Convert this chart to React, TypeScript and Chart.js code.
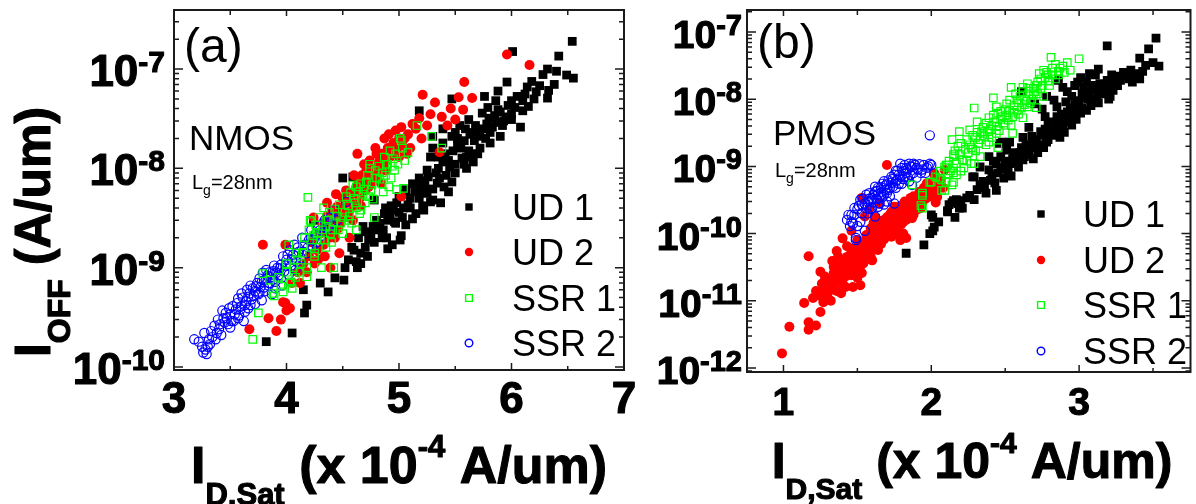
import React, { useEffect, useRef } from 'react';
import { Chart, registerables } from 'chart.js';

Chart.register(...registerables);

const FONT = '"Liberation Sans", Arial, Helvetica, sans-serif';

// ---------- series names / colours ----------
const seriesLabels = ['UD 1', 'UD 2', 'SSR 1', 'SSR 2'];
const seriesColors = ['#000000', '#ff0000', '#00ff00', '#0000ff'];

// ---------- panel (a) NMOS : [ID,Sat (x1e-4 A/um), IOFF (A/um)] ----------
const nmosUD1: number[][] = [
  [3.82, 1.8e-10], [4.05, 2.2e-10], [4.16, 3.5e-10], [4.18, 4.2e-10], [4.15, 6e-10], [4.3, 7e-10], [4.37, 5.7e-10],
  [4.43, 7.9e-10], [4.51, 7.5e-10], [4.24, 3e-9], [4.5, 8e-9], [4.62, 1.15e-9], [4.63, 1e-9], [4.66, 1.4e-9],
  [4.72, 1.3e-9], [4.7, 1.6e-9], [4.78, 1.8e-9], [4.75, 2.2e-9], [4.68, 2.6e-9], [4.81, 2.4e-9], [4.85, 2e-9],
  [4.89, 2e-9], [4.9, 1.55e-9], [4.94, 1.7e-9], [4.97, 2.8e-9], [5.01, 1.9e-9], [5.02, 2.1e-9], [4.8, 3e-9],
  [4.87, 3.5e-9], [4.92, 3.3e-9], [4.96, 2.9e-9], [5.0, 3.6e-9], [5.06, 2.7e-9], [5.12, 3.1e-9], [4.78, 4.8e-9],
  [4.98, 4.5e-9], [5.04, 4e-9], [5.08, 4.3e-9], [5.1, 5e-9], [5.15, 3.5e-9], [5.21, 4.2e-9], [5.22, 3.8e-9],
  [5.28, 4.6e-9], [5.3, 4.8e-9], [5.37, 4.5e-9], [5.06, 6.1e-9], [5.16, 6.5e-9], [5.17, 6.8e-9], [5.2, 6e-9],
  [5.25, 5.6e-9], [5.44, 5.8e-9], [4.59, 8.2e-9], [4.76, 9.2e-9], [5.18, 8e-9], [5.34, 7.1e-9], [5.47, 7.3e-9],
  [5.33, 9e-9], [5.42, 8.5e-9], [5.25, 9.6e-9], [5.45, 1.03e-8], [5.5, 9e-9], [5.6, 1e-8], [5.39, 1.16e-8],
  [5.28, 1.3e-8], [5.56, 1.27e-8], [5.66, 1.16e-8], [5.65, 1.4e-8], [5.62, 1.5e-8], [5.3, 1.6e-8], [5.39, 1.8e-8],
  [5.52, 1.7e-8], [5.72, 1.6e-8], [5.81, 1.8e-8], [5.47, 2.1e-8], [5.3, 2.1e-8], [5.72, 2.1e-8], [5.9, 2.1e-8],
  [5.81, 2.3e-8], [5.59, 2.5e-8], [5.39, 2.5e-8], [5.75, 2.5e-8], [5.54, 2.7e-8], [5.68, 2.7e-8], [6.08, 2.6e-8],
  [5.86, 2.9e-8], [5.93, 3e-8], [5.95, 3.3e-8], [5.85, 3.4e-8], [6.0, 3.5e-8], [5.74, 3.6e-8], [5.18, 3.8e-8],
  [5.88, 3.9e-8], [5.79, 4.1e-8], [6.03, 4.1e-8], [6.15, 4.2e-8], [5.86, 4.8e-8], [6.1, 4.8e-8], [6.0, 4.8e-8],
  [5.47, 5e-8], [6.2, 5e-8], [6.32, 5.1e-8], [5.76, 5.3e-8], [5.88, 6e-8], [6.22, 5.9e-8], [6.33, 6.1e-8],
  [6.14, 6.6e-8], [5.96, 7.4e-8], [6.49, 8.7e-8], [6.55, 8.1e-8], [6.32, 1e-7], [6.42, 1.35e-7], [6.01, 1.5e-7],
  [6.54, 1.9e-7], [4.55, 1.2e-9], [4.6, 1.5e-9], [4.64, 2e-9], [4.7, 2.3e-9], [4.73, 1.9e-9], [4.77, 2.6e-9],
  [4.83, 2.8e-9], [4.86, 2.4e-9], [4.88, 4e-9], [4.9, 3e-9], [4.93, 4.2e-9], [4.95, 3.8e-9], [5.0, 5.2e-9],
  [5.03, 3.2e-9], [5.05, 5.5e-9], [5.1, 4e-9], [5.12, 7e-9], [5.14, 5.8e-9], [5.18, 5e-9], [5.2, 7.5e-9],
  [5.23, 6.8e-9], [5.26, 8.2e-9], [5.3, 6.2e-9], [5.35, 1e-8], [5.36, 8e-9], [5.4, 6.5e-9], [5.41, 1.4e-8],
  [5.44, 1.2e-8], [5.48, 1.5e-8], [5.5, 1.1e-8], [5.52, 2e-8], [5.55, 1.6e-8], [5.58, 1.9e-8], [5.6, 1.3e-8],
  [5.63, 2.2e-8], [5.67, 1.9e-8], [5.7, 2.4e-8], [5.7, 1.4e-8], [5.77, 2e-8], [5.78, 2.8e-8], [5.8, 3.2e-8],
  [5.83, 2.6e-8], [5.9, 3.7e-8], [5.92, 2.7e-8], [5.97, 4.3e-8], [6.0, 3.1e-8], [6.05, 5.3e-8], [6.1, 3.8e-8],
  [6.12, 5.6e-8], [6.18, 7.5e-8], [6.25, 6.8e-8], [6.28, 8.8e-8], [6.38, 7e-8], [6.4, 9.5e-8], [5.62, 3.1e-8],
  [5.65, 2.3e-8], [5.5, 2.3e-8], [5.35, 1.3e-8], [5.58, 1.1e-8], [4.58, 1.6e-9], [4.66, 1.1e-9], [4.52, 1e-9],
];
const nmosUD2: number[][] = [
  [3.67, 2.4e-10], [3.79, 1.7e-9], [3.84, 3.1e-10], [3.91, 2.3e-10], [3.95, 3e-10], [3.97, 4.5e-10], [3.99, 1.7e-9],
  [3.99, 4.4e-10], [4.0, 3.7e-10], [4.03, 3.9e-10], [4.05, 7e-10], [4.1, 9e-10], [4.12, 7e-10], [4.15, 1.1e-9],
  [4.2, 1.3e-9], [4.22, 1.8e-9], [4.24, 3.2e-9], [4.25, 1.1e-9], [4.27, 1.5e-9], [4.3, 2.2e-9], [4.33, 1.7e-9],
  [4.35, 2.6e-9], [4.38, 2e-9], [4.39, 1e-9], [4.4, 3e-9], [4.42, 2.4e-9], [4.45, 3.5e-9], [4.45, 4.1e-9],
  [4.47, 1.4e-9], [4.48, 2.8e-9], [4.5, 4e-9], [4.52, 3.2e-9], [4.54, 4.8e-9], [4.55, 3.6e-9], [4.56, 2e-9],
  [4.58, 5.5e-9], [4.6, 4.2e-9], [4.6, 8.5e-9], [4.62, 6.5e-9], [4.63, 1.4e-8], [4.65, 5e-9], [4.68, 7.5e-9],
  [4.7, 6e-9], [4.71, 9.6e-9], [4.72, 9e-9], [4.75, 7e-9], [4.78, 1.05e-8], [4.8, 1.4e-8], [4.8, 8e-9],
  [4.83, 1.2e-8], [4.84, 7.1e-9], [4.86, 1.1e-8], [4.88, 9.5e-9], [4.9, 1.6e-8], [4.92, 1.3e-8], [4.95, 1.8e-8],
  [4.98, 1.5e-8], [5.0, 2e-8], [5.02, 5.2e-9], [5.03, 1.7e-8], [5.08, 2.2e-8], [5.1, 1.6e-8], [5.15, 2.5e-8],
  [5.21, 5.5e-8], [5.25, 2.7e-8], [5.32, 4.6e-8], [5.36, 1.45e-8], [5.43, 2.7e-8], [5.5, 3.1e-8], [5.53, 5.2e-8],
  [5.57, 3.9e-8], [5.58, 7.4e-8], [5.65, 5.1e-8], [5.96, 1.4e-7], [6.16, 1.1e-7], [4.32, 2.8e-9], [4.36, 3.3e-9],
  [4.41, 3.8e-9], [4.43, 2e-9], [4.46, 2.5e-9], [4.5, 5e-9], [4.53, 6e-9], [4.57, 4.5e-9], [4.59, 3e-9],
  [4.61, 5.8e-9], [4.64, 7e-9], [4.66, 4.2e-9], [4.67, 8.5e-9], [4.69, 1.1e-8], [4.73, 6.5e-9], [4.74, 1.2e-8],
  [4.77, 8.5e-9], [4.79, 1.6e-8], [4.82, 9.5e-9], [4.85, 1.4e-8], [4.87, 2e-8], [4.89, 1.2e-8], [4.91, 2.2e-8],
  [4.94, 1.5e-8], [4.97, 2.4e-8], [5.0, 1.3e-8], [5.02, 2.6e-8], [5.05, 2e-8], [5.07, 1.4e-8], [5.12, 2.8e-8],
  [5.18, 3.2e-8], [5.2, 2e-8], [5.28, 3.5e-8], [5.38, 3.3e-8], [5.46, 4e-8], [4.28, 1.2e-9], [4.34, 1.3e-9],
  [4.18, 9e-10], [4.36, 4.5e-9], [4.44, 5.5e-9],
];
const nmosSSR1: number[][] = [
  [3.7, 1.9e-10], [3.75, 3.5e-10], [3.79, 8.7e-10], [3.88, 5.5e-10], [3.89, 5.2e-10], [3.95, 6.5e-10], [3.97, 5.7e-10],
  [4.0, 9e-10], [4.02, 1.7e-9], [4.03, 7e-10], [4.04, 7.2e-10], [4.05, 6.2e-10], [4.08, 8e-10], [4.1, 1.2e-9],
  [4.12, 9e-10], [4.13, 1.1e-9], [4.15, 1.7e-9], [4.18, 1e-9], [4.18, 8.1e-10], [4.19, 5.1e-9], [4.2, 2.4e-9],
  [4.21, 3e-9], [4.22, 2.9e-9], [4.25, 1.3e-9], [4.25, 1.4e-9], [4.27, 1.9e-9], [4.28, 2.2e-9], [4.3, 1.9e-9],
  [4.31, 1e-9], [4.33, 4e-9], [4.35, 1.6e-9], [4.35, 2.6e-9], [4.39, 2.2e-9], [4.4, 1.8e-9], [4.41, 2.4e-9],
  [4.42, 1e-9], [4.45, 3.3e-9], [4.48, 2.8e-9], [4.5, 2.2e-9], [4.5, 3.2e-9], [4.55, 3e-9], [4.55, 4.2e-9],
  [4.58, 2.8e-9], [4.59, 6.8e-9], [4.6, 5e-9], [4.62, 2.4e-9], [4.62, 4e-9], [4.62, 6.5e-9], [4.65, 3.5e-9],
  [4.66, 3.8e-9], [4.68, 5.5e-9], [4.7, 4.5e-9], [4.71, 7.3e-9], [4.74, 1e-8], [4.74, 1.1e-8], [4.75, 6e-9],
  [4.77, 4.9e-9], [4.78, 3.2e-9], [4.8, 8e-9], [4.85, 7e-9], [4.85, 9e-9], [4.86, 5.8e-9], [4.89, 1.1e-8],
  [4.9, 1.1e-8], [4.91, 6.5e-9], [4.93, 8e-9], [4.95, 1.25e-8], [4.96, 9.6e-9], [4.98, 6.1e-9], [5.01, 2e-8],
  [5.02, 1.9e-8], [5.04, 6.3e-9], [5.05, 1.2e-8], [5.08, 1.45e-8], [5.16, 2.7e-8], [5.29, 2.1e-8], [5.38, 1.6e-8],
  [4.14, 1.4e-9], [4.16, 2e-9], [4.22, 1.6e-9], [4.24, 2.1e-9], [4.26, 2.7e-9], [4.29, 3.2e-9], [4.32, 2.4e-9],
  [4.34, 1.9e-9], [4.37, 3e-9], [4.38, 3.6e-9], [4.42, 2.9e-9], [4.43, 3.9e-9], [4.46, 2.4e-9], [4.47, 4.3e-9],
  [4.52, 3.6e-9], [4.53, 5.2e-9], [4.56, 3.3e-9], [4.57, 5.7e-9], [4.61, 4.5e-9], [4.64, 5.8e-9], [4.66, 7e-9],
  [4.69, 6.2e-9], [4.72, 8.5e-9], [4.73, 5.2e-9], [4.76, 6.8e-9], [4.79, 9.5e-9], [4.82, 1.05e-8], [4.83, 7.8e-9],
  [4.87, 1.3e-8], [4.88, 8.5e-9], [4.92, 1.5e-8], [4.94, 1.05e-8], [4.97, 1.4e-8], [4.99, 1.1e-8], [5.03, 1.6e-8],
  [4.06, 1e-9], [4.09, 1.4e-9], [4.0, 1.1e-9], [3.93, 8e-10], [3.85, 7.5e-10],
];
const nmosSSR2: number[][] = [
  [3.18, 1.9e-10], [3.25, 1.6e-10], [3.26, 1.4e-10], [3.27, 2.2e-10], [3.28, 1.5e-10], [3.29, 1.35e-10], [3.31, 1.9e-10],
  [3.32, 1.7e-10], [3.34, 2e-10], [3.36, 2.6e-10], [3.38, 2.2e-10], [3.4, 2.4e-10], [3.41, 2.7e-10], [3.43, 3.7e-10],
  [3.44, 3.1e-10], [3.45, 2.8e-10], [3.47, 3.1e-10], [3.5, 2.5e-10], [3.5, 3.4e-10], [3.52, 4.1e-10], [3.53, 2.9e-10],
  [3.55, 3.8e-10], [3.56, 4.4e-10], [3.57, 4.9e-10], [3.58, 3.3e-10], [3.6, 4.1e-10], [3.61, 5e-10], [3.62, 2.9e-10],
  [3.63, 3.6e-10], [3.64, 4.6e-10], [3.65, 6e-10], [3.66, 3.9e-10], [3.67, 5.5e-10], [3.69, 4.8e-10], [3.7, 6.2e-10],
  [3.72, 4.3e-10], [3.72, 5.8e-10], [3.74, 7e-10], [3.75, 5.4e-10], [3.76, 7.8e-10], [3.77, 6.4e-10], [3.78, 4.7e-10],
  [3.79, 8.9e-10], [3.8, 7.5e-10], [3.81, 5.8e-10], [3.82, 9.5e-10], [3.83, 8.3e-10], [3.84, 6.6e-10], [3.85, 7e-10],
  [3.86, 8e-10], [3.87, 5.4e-10], [3.88, 9.2e-10], [3.9, 7.2e-10], [3.9, 6.2e-10], [3.92, 1e-9], [3.93, 8.4e-10],
  [3.95, 1.07e-9], [3.96, 6.6e-10], [3.97, 1.3e-9], [3.98, 9.2e-10], [4.0, 1.2e-9], [4.02, 8.5e-10], [4.03, 1.5e-9],
  [4.04, 1.05e-9], [4.06, 1.35e-9], [4.07, 1.7e-9], [4.08, 9.5e-10], [4.09, 1.15e-9], [4.11, 1.45e-9], [4.13, 1.25e-9],
  [4.14, 2e-9], [4.16, 1.7e-9], [4.18, 1.4e-9], [4.2, 1.9e-9], [4.22, 2.4e-9], [4.23, 1.6e-9], [4.26, 2.2e-9],
  [4.28, 2.6e-9], [4.31, 2.1e-9], [4.34, 3e-9], [4.37, 2.5e-9], [4.42, 3.8e-9], [4.45, 3e-9], [4.53, 4.6e-9],
  [3.22, 1.8e-10], [3.3, 1.6e-10], [3.33, 2.3e-10], [3.37, 1.9e-10], [3.39, 3e-10], [3.42, 2.1e-10], [3.46, 3.5e-10],
  [3.48, 2.7e-10], [3.49, 3.9e-10], [3.51, 2.9e-10], [3.54, 3.4e-10], [3.57, 3.1e-10], [3.59, 3.8e-10], [3.6, 5.5e-10],
  [3.63, 4.2e-10], [3.66, 5.1e-10], [3.68, 4.2e-10], [3.68, 6.6e-10], [3.71, 5.2e-10], [3.73, 6.5e-10], [3.76, 5.6e-10],
  [3.78, 7.2e-10], [3.8, 6.3e-10], [3.82, 7.8e-10], [3.85, 9e-10], [3.88, 7.6e-10], [3.89, 1.05e-9], [3.91, 8.9e-10],
  [3.94, 9.8e-10], [3.95, 7.8e-10], [3.99, 1.05e-9], [4.01, 1.35e-9], [4.05, 1.2e-9], [4.1, 1.6e-9], [4.12, 1.1e-9],
  [4.15, 1.45e-9], [4.19, 1.6e-9], [4.24, 1.9e-9], [4.27, 1.8e-9], [4.3, 2.4e-9], [4.33, 2.3e-9], [4.36, 2.8e-9],
  [4.39, 3.2e-9], [4.4, 2.7e-9],
];

// ---------- panel (b) PMOS ----------
const pmosUD1: number[][] = [
  [1.83, 5.1e-11], [1.95, 6.8e-11], [2.01, 1.1e-10], [2.02, 1.25e-10], [1.99, 1e-10], [2.0, 1.9e-10], [2.01, 1.75e-10],
  [2.11, 2.2e-10], [2.16, 1.75e-10], [2.15, 3.1e-10], [2.2, 3.1e-10], [2.21, 2.4e-10], [2.28, 7e-10], [2.11, 2.1e-10],
  [2.14, 2.9e-10], [2.17, 3.2e-10], [2.19, 2.4e-10], [2.26, 3.7e-10], [2.29, 3.2e-10], [2.37, 4e-10], [2.36, 4.8e-10],
  [2.44, 4.4e-10], [2.43, 5.7e-10], [2.29, 7e-10], [2.33, 9.8e-10], [2.39, 8.9e-10], [2.45, 8e-10], [2.49, 6.7e-10],
  [2.54, 7.2e-10], [2.44, 1.1e-9], [2.59, 9.8e-10], [2.53, 1.1e-9], [2.62, 1.25e-9], [2.69, 1.3e-9], [2.47, 1.4e-9],
  [2.39, 1.4e-9], [2.42, 1.2e-9], [2.51, 1.75e-9], [2.56, 1.6e-9], [2.61, 1.9e-9], [2.65, 1.75e-9], [2.72, 1.6e-9],
  [2.76, 1.9e-9], [2.53, 2.3e-9], [2.46, 2.2e-9], [2.48, 2.3e-9], [2.62, 2.7e-9], [2.69, 2.3e-9], [2.79, 2.5e-9],
  [2.87, 2.7e-9], [2.66, 3.8e-9], [2.74, 3.3e-9], [2.85, 3.7e-9], [2.79, 4.1e-9], [2.89, 4.4e-9], [2.95, 4.1e-9],
  [2.77, 5.5e-9], [2.85, 5.5e-9], [2.92, 5.3e-9], [3.01, 6.2e-9], [3.05, 6.8e-9], [2.75, 7.1e-9], [2.85, 7.7e-9],
  [2.96, 7.4e-9], [2.91, 9.1e-9], [3.13, 8.8e-9], [3.2, 1e-8], [2.83, 9.7e-9], [3.06, 1e-8], [2.95, 1.1e-8],
  [3.21, 1.1e-8], [3.13, 1.2e-8], [3.02, 1.2e-8], [2.61, 1.3e-8], [3.09, 1.4e-8], [3.03, 1.5e-8], [3.16, 1.5e-8],
  [3.24, 1.75e-8], [3.19, 1.9e-8], [2.86, 1.9e-8], [3.25, 2e-8], [3.34, 2e-8], [3.41, 2e-8], [3.01, 2.1e-8],
  [3.11, 2.3e-8], [3.38, 2.4e-8], [3.3, 2.5e-8], [3.13, 2.8e-8], [3.54, 3.1e-8], [3.5, 3.5e-8], [3.41, 4.1e-8],
  [3.47, 5.6e-8], [3.19, 6.2e-8], [3.52, 8.1e-8], [2.58, 1.4e-9], [2.66, 1.5e-9], [2.8, 3e-9], [2.9, 3.2e-9],
  [2.98, 5e-9], [3.08, 8e-9], [2.99, 9.5e-9], [3.16, 1.3e-8], [2.92, 6.5e-9], [2.7, 2e-9], [2.55, 1.3e-9],
  [2.35, 6e-10], [2.5, 9e-10], [3.27, 2.2e-8], [3.05, 1.8e-8], [2.97, 1.6e-8], [2.05, 1.5e-10], [2.12, 2.7e-10],
  [2.18, 2.8e-10], [2.24, 3.4e-10], [2.31, 4.5e-10], [2.33, 5.3e-10], [2.4, 6.2e-10], [2.41, 7.5e-10], [2.47, 9.5e-10],
  [2.5, 1.2e-9], [2.52, 8.5e-10], [2.57, 1.15e-9], [2.6, 1.6e-9], [2.63, 1.4e-9], [2.64, 2.1e-9], [2.67, 1.9e-9],
  [2.68, 2.8e-9], [2.71, 2.5e-9], [2.73, 2.1e-9], [2.75, 2.9e-9], [2.77, 3.6e-9], [2.78, 2.3e-9], [2.81, 3.4e-9],
  [2.82, 4.6e-9], [2.84, 2.9e-9], [2.86, 4.2e-9], [2.88, 6e-9], [2.89, 3.6e-9], [2.9, 5e-9], [2.93, 4.6e-9],
  [2.94, 6.8e-9], [2.96, 5.6e-9], [2.97, 8.3e-9], [2.99, 6.4e-9], [3.0, 8.9e-9], [3.02, 7.4e-9], [3.03, 1.05e-8],
  [3.04, 1.3e-8], [3.07, 1.2e-8], [3.08, 9.2e-9], [3.1, 1.6e-8], [3.12, 1e-8], [3.14, 1.7e-8], [3.15, 1.4e-8],
  [3.18, 1.2e-8], [3.2, 1.6e-8], [3.22, 2.3e-8], [3.23, 1.35e-8], [3.26, 1.6e-8], [3.28, 1.9e-8], [3.32, 2.2e-8],
  [3.35, 2.7e-8], [3.36, 1.8e-8], [3.43, 2.6e-8], [3.45, 3.2e-8], [2.7, 8.5e-9], [2.78, 1.1e-8], [2.92, 1.3e-8],
  [2.99, 1.8e-8], [3.07, 2.4e-8], [2.89, 1.5e-8],
];
const pmosUD2: number[][] = [
  [0.99, 1.65e-12], [1.04, 4.1e-12], [1.17, 3.7e-12], [1.17, 4.8e-12], [1.22, 4.3e-12], [1.14, 9.3e-12], [1.2, 1.1e-11],
  [1.25, 6.8e-12], [1.17, 4.6e-11], [1.25, 2.7e-11], [1.27, 9.5e-12], [1.32, 1e-11], [1.32, 1.6e-11], [1.34, 3.2e-11],
  [1.29, 1.9e-11], [1.39, 1.3e-11], [1.37, 4.5e-11], [1.4, 8.5e-11], [1.42, 2.3e-11], [1.44, 3.7e-11], [1.49, 5.3e-11],
  [1.47, 1.6e-11], [1.52, 1.7e-11], [1.53, 2.6e-11], [1.54, 3.6e-11], [1.53, 3.4e-10], [1.57, 7.2e-11], [1.6, 4e-11],
  [1.64, 5.7e-11], [1.67, 8.8e-11], [1.7, 1.05e-9], [1.71, 1.25e-10], [1.77, 1e-10], [1.77, 1.6e-10], [1.82, 2.2e-10],
  [1.83, 8.6e-11], [1.87, 1.7e-10], [1.91, 3.1e-10], [1.95, 4.8e-10], [2.0, 3.7e-10], [2.03, 2.9e-10], [2.03, 4.2e-10],
  [2.02, 7.5e-10], [2.09, 8.9e-10], [1.75, 2.5e-10], [1.62, 1.75e-10], [2.02, 7.9e-10], [1.99, 4e-10], [1.84, 1.8e-10],
  [1.81, 1e-10], [1.79, 8e-11], [1.3, 1.3e-11], [1.35, 2.2e-11], [1.36, 1.4e-11], [1.38, 2.8e-11], [1.4, 1.8e-11],
  [1.41, 3.2e-11], [1.43, 4.5e-11], [1.45, 2.8e-11], [1.46, 6e-11], [1.48, 3.9e-11], [1.5, 2.2e-11], [1.5, 8e-11],
  [1.51, 4.8e-11], [1.55, 6e-11], [1.56, 9.5e-11], [1.58, 5e-11], [1.59, 1.2e-10], [1.6, 7.5e-11], [1.61, 1.45e-10],
  [1.63, 1e-10], [1.65, 1.3e-10], [1.66, 7e-11], [1.68, 1.6e-10], [1.69, 1.1e-10], [1.72, 1.9e-10], [1.73, 9e-11],
  [1.74, 1.4e-10], [1.76, 2e-10], [1.78, 1.25e-10], [1.8, 2.6e-10], [1.81, 1.5e-10], [1.85, 3e-10], [1.86, 2.2e-10],
  [1.88, 3.6e-10], [1.89, 2.6e-10], [1.92, 4.2e-10], [1.93, 2.4e-10], [1.96, 3.3e-10], [1.97, 5.6e-10], [2.0, 5.5e-10],
  [1.28, 2.3e-11], [1.33, 3.9e-11], [1.36, 5.5e-11], [1.22, 1.4e-11], [1.26, 1.8e-11], [1.55, 1.8e-10], [1.58, 2.3e-10],
  [1.65, 2.8e-10], [1.46, 1.1e-10], [1.43, 6.5e-11], [1.24, 1.2e-11], [1.27, 1.5e-11], [1.29, 1.1e-11], [1.31, 2e-11],
  [1.33, 1.5e-11], [1.34, 2.6e-11], [1.36, 1.9e-11], [1.37, 3.3e-11], [1.39, 2.3e-11], [1.4, 4e-11], [1.41, 2.7e-11],
  [1.42, 1.6e-11], [1.44, 3.2e-11], [1.45, 4.8e-11], [1.46, 2.4e-11], [1.47, 3.5e-11], [1.48, 5.5e-11], [1.49, 2.9e-11],
  [1.5, 4.2e-11], [1.51, 6.5e-11], [1.52, 3.3e-11], [1.53, 4.6e-11], [1.54, 7.5e-11], [1.55, 4e-11], [1.56, 5.3e-11],
  [1.57, 8.8e-11], [1.58, 6.4e-11], [1.59, 4.6e-11], [1.6, 9.8e-11], [1.61, 6.2e-11], [1.62, 8e-11], [1.63, 1.25e-10],
  [1.64, 7.5e-11], [1.65, 1e-10], [1.66, 1.5e-10], [1.67, 1.15e-10], [1.68, 8.2e-11], [1.69, 1.4e-10], [1.7, 1.75e-10],
  [1.71, 9.5e-11], [1.72, 1.3e-10], [1.73, 2.1e-10], [1.74, 1.15e-10], [1.75, 1.7e-10], [1.76, 1.3e-10], [1.77, 2.3e-10],
  [1.78, 1.8e-10], [1.79, 2.6e-10], [1.8, 1.4e-10], [1.81, 2e-10], [1.82, 3e-10], [1.83, 1.6e-10], [1.84, 2.5e-10],
  [1.85, 2e-10], [1.86, 3.4e-10], [1.87, 2.5e-10], [1.88, 1.9e-10], [1.9, 3.4e-10], [1.91, 2.3e-10], [1.92, 3.7e-10],
  [1.94, 2.9e-10], [1.95, 3.8e-10], [1.96, 4.5e-10], [1.98, 3.5e-10], [1.99, 5e-10], [2.01, 4.6e-10], [2.04, 3.5e-10],
  [2.05, 5.2e-10], [2.06, 6.2e-10], [2.08, 4.8e-10],
];
const pmosSSR1: number[][] = [
  [1.87, 5.3e-10], [1.94, 3.7e-10], [1.94, 2.4e-10], [1.93, 2.6e-10], [2.1, 1.05e-9], [2.0, 5.9e-10], [2.07, 6.3e-10],
  [2.14, 5.3e-10], [2.09, 4.4e-10], [2.15, 8e-10], [2.15, 1.5e-9], [2.21, 1.25e-9], [2.2, 2.2e-9], [2.27, 1.9e-9],
  [2.27, 1.1e-9], [2.81, 4.2e-8], [3.0, 4e-8], [2.89, 3.1e-8], [2.82, 2.9e-8], [2.76, 2.7e-8], [2.73, 2.4e-8],
  [2.79, 2.3e-8], [2.86, 2.3e-8], [2.72, 1.8e-8], [2.79, 1.9e-8], [2.54, 1.5e-8], [2.62, 1.5e-8], [2.69, 1.45e-8],
  [2.74, 1.45e-8], [2.66, 1.2e-8], [2.76, 1.1e-8], [2.42, 1.05e-8], [2.29, 7.4e-9], [2.44, 7.7e-9], [2.53, 9.7e-9],
  [2.59, 8.8e-9], [2.65, 7.7e-9], [2.71, 7.5e-9], [2.42, 5.8e-9], [2.51, 5.8e-9], [2.56, 6.4e-9], [2.62, 5.3e-9],
  [2.31, 4.6e-9], [2.37, 4.4e-9], [2.49, 4.4e-9], [2.54, 4.1e-9], [2.19, 3.3e-9], [2.26, 3.5e-9], [2.35, 3.1e-9],
  [2.44, 3.1e-9], [2.55, 3.1e-9], [2.14, 2.5e-9], [2.24, 2.5e-9], [2.32, 2.2e-9], [2.39, 2.3e-9], [2.45, 1.9e-9],
  [2.16, 1.7e-9], [2.25, 1.6e-9], [2.33, 1.4e-9], [2.15, 1.4e-9], [2.21, 1.25e-9], [2.29, 1.1e-9], [2.11, 1.05e-9],
  [2.15, 9.4e-10], [2.22, 9.5e-10], [2.11, 7.5e-10], [2.17, 7.5e-10], [2.06, 6.7e-10], [2.15, 5.8e-10], [1.99, 5.8e-10],
  [2.07, 4.4e-10], [1.94, 4e-10], [2.09, 9.8e-10], [2.4, 3.6e-9], [2.47, 5e-9], [2.58, 6.9e-9], [2.68, 1e-8],
  [2.6, 1.1e-8], [2.5, 7e-9], [2.36, 2.8e-9], [2.3, 2.7e-9], [2.41, 4e-9], [2.52, 4.9e-9], [2.63, 8.3e-9],
  [2.7, 1.3e-8], [2.8, 1.6e-8], [2.84, 2e-8], [2.77, 2.1e-8], [2.86, 2.6e-8], [2.9, 2.5e-8], [2.65, 1.7e-8],
  [2.57, 1.2e-8], [2.18, 2e-9], [2.28, 1.8e-9], [2.34, 3.3e-9], [2.45, 6.2e-9], [2.12, 1.2e-9], [2.03, 7e-10],
  [2.06, 8.5e-10], [2.1, 6e-10], [2.13, 8.6e-10], [2.17, 1.1e-9], [2.19, 1.5e-9], [2.2, 8.5e-10], [2.23, 1.8e-9],
  [2.24, 1.2e-9], [2.26, 2.1e-9], [2.28, 2.9e-9], [2.3, 1.7e-9], [2.31, 3.2e-9], [2.33, 2.5e-9], [2.35, 3.8e-9],
  [2.37, 2.1e-9], [2.38, 3.3e-9], [2.39, 5.3e-9], [2.41, 2.7e-9], [2.43, 4.6e-9], [2.44, 3.9e-9], [2.46, 3.4e-9],
  [2.47, 6.6e-9], [2.48, 5.5e-9], [2.5, 4.1e-9], [2.51, 8.5e-9], [2.53, 6.8e-9], [2.55, 5.5e-9], [2.56, 8e-9],
  [2.58, 9.8e-9], [2.59, 6e-9], [2.61, 7.4e-9], [2.62, 1.3e-8], [2.64, 9.5e-9], [2.66, 1.45e-8], [2.67, 8.8e-9],
  [2.69, 1.15e-8], [2.71, 1.6e-8], [2.72, 1.2e-8], [2.74, 2e-8], [2.75, 1.6e-8], [2.78, 2.5e-8], [2.8, 1.85e-8],
  [2.82, 2.3e-8], [2.84, 3.3e-8], [2.87, 2.9e-8], [2.92, 3.5e-8], [2.94, 2.7e-8],
];
const pmosSSR2: number[][] = [
  [1.43, 1.6e-10], [1.47, 1.4e-10], [1.49, 8e-11], [1.49, 8.6e-11], [1.46, 1.9e-10], [1.5, 2.3e-10], [1.52, 1.5e-10],
  [1.53, 2.7e-10], [1.55, 2.8e-10], [1.55, 1.1e-10], [1.57, 2e-10], [1.58, 3.3e-10], [1.59, 3.1e-10], [1.6, 2.4e-10],
  [1.61, 3.8e-10], [1.62, 1.8e-10], [1.63, 4.3e-10], [1.64, 2.5e-10], [1.65, 3.4e-10], [1.66, 4.9e-10], [1.67, 3.5e-10],
  [1.68, 2.7e-10], [1.69, 4.5e-10], [1.7, 5.5e-10], [1.71, 4.5e-10], [1.72, 3.6e-10], [1.73, 5.7e-10], [1.74, 6.5e-10],
  [1.75, 2.8e-10], [1.76, 4.8e-10], [1.77, 6.3e-10], [1.78, 7.5e-10], [1.79, 1.1e-9], [1.8, 5.5e-10], [1.81, 8.5e-10],
  [1.82, 7e-10], [1.83, 9.5e-10], [1.84, 7e-10], [1.85, 6e-10], [1.86, 1e-9], [1.87, 9.8e-10], [1.87, 5.3e-10],
  [1.88, 8e-10], [1.89, 1.05e-9], [1.9, 6.8e-10], [1.91, 9e-10], [1.93, 8e-10], [1.95, 1.05e-9], [1.97, 9.5e-10],
  [2.0, 1.05e-9], [1.99, 1.1e-9], [1.68, 6e-10], [1.62, 5e-10], [1.56, 3.8e-10], [1.52, 3.2e-10], [1.48, 2.4e-10],
  [1.45, 1.3e-10], [1.64, 3.9e-10], [1.7, 3e-10], [1.76, 8.6e-10], [1.99, 2.9e-9], [1.44, 1.9e-10], [1.46, 1.5e-10],
  [1.48, 1.9e-10], [1.5, 1.3e-10], [1.51, 2.6e-10], [1.53, 2e-10], [1.54, 3.3e-10], [1.56, 2.4e-10], [1.57, 3e-10],
  [1.58, 4e-10], [1.59, 2.3e-10], [1.6, 3.4e-10], [1.61, 2.9e-10], [1.62, 4.2e-10], [1.63, 3.3e-10], [1.64, 4.8e-10],
  [1.65, 2.8e-10], [1.66, 4.1e-10], [1.67, 5.5e-10], [1.68, 3.8e-10], [1.69, 5.2e-10], [1.7, 4e-10], [1.71, 6.2e-10],
  [1.72, 4.8e-10], [1.73, 7e-10], [1.74, 5e-10], [1.75, 7.5e-10], [1.76, 6e-10], [1.77, 8.6e-10], [1.78, 5.5e-10],
  [1.79, 7e-10], [1.8, 9.5e-10], [1.81, 6.5e-10], [1.82, 1.05e-9], [1.83, 8e-10], [1.84, 9e-10], [1.85, 1.1e-9],
  [1.86, 7.5e-10], [1.88, 1.1e-9], [1.9, 9.5e-10], [1.92, 1.08e-9], [1.94, 9e-10], [1.96, 8e-10], [1.98, 1e-9],
];

// ---------- axes ----------
const nmosXRange = [3, 7];
const nmosYRange = [9.33e-11, 3.93e-7];
const nmosXTicks = [3, 4, 5, 6, 7];
const nmosXMinor = [3.5, 4.5, 5.5, 6.5];
const nmosYDecades = [-10, -9, -8, -7];

const pmosXRange = [0.7533, 3.7467];
const pmosYRange = [8.72e-13, 2.126e-7];
const pmosXTicks = [1, 2, 3];
const pmosXMinor = [1.5, 2.5, 3.5];
const pmosYDecades = [-12, -11, -10, -9, -8, -7];

// ---------- drawing helpers ----------
type Part = { t: string; size: number; bold?: boolean; dy?: number };

function drawRich(ctx: CanvasRenderingContext2D, parts: Part[], x: number, y: number, align: 'left' | 'center' | 'right') {
  const fonts = parts.map((p) => `${p.bold ? 'bold ' : ''}${p.size}px ${FONT}`);
  const widths = parts.map((p, i) => {
    ctx.font = fonts[i];
    return ctx.measureText(p.t).width;
  });
  const total = widths.reduce((s, w) => s + w, 0);
  let cx = align === 'left' ? x : align === 'center' ? x - total / 2 : x - total;
  ctx.textAlign = 'left';
  ctx.textBaseline = 'alphabetic';
  parts.forEach((p, i) => {
    ctx.font = fonts[i];
    ctx.fillText(p.t, cx, y + (p.dy || 0));
    if (p.bold) {
      ctx.lineWidth = 1.1;
      ctx.strokeStyle = '#000';
      ctx.lineJoin = 'round';
      ctx.strokeText(p.t, cx, y + (p.dy || 0));
    }
    cx += widths[i];
  });
}

function drawMarker(ctx: CanvasRenderingContext2D, i: number, x: number, y: number) {
  ctx.save();
  if (i === 0) {
    ctx.fillStyle = seriesColors[0];
    ctx.fillRect(x - 3.7, y - 3.7, 7.4, 7.4);
  } else if (i === 1) {
    ctx.fillStyle = seriesColors[1];
    ctx.beginPath();
    ctx.arc(x, y, 4.2, 0, Math.PI * 2);
    ctx.fill();
  } else if (i === 2) {
    ctx.strokeStyle = seriesColors[2];
    ctx.lineWidth = 1.4;
    ctx.strokeRect(x - 3.4, y - 3.4, 6.8, 6.8);
  } else {
    ctx.strokeStyle = seriesColors[3];
    ctx.lineWidth = 1.4;
    ctx.beginPath();
    ctx.arc(x, y, 3.8, 0, Math.PI * 2);
    ctx.stroke();
  }
  ctx.restore();
}

type PanelStyle = {
  rightShift: number;
  yTickFont: number;
  ySupFont: number;
  yLabelGap: number;
  yBaseOff: number;
  ySupDy: number;
  xTickFont: number;
  xLabelBaseline: number;
  tag: string;
  tagPos: [number, number];
  device: string;
  devicePos: [number, number];
  lgPos: [number, number];
  legendMarkX: number;
  legendTextX: number;
  legendRows: number[];
  xTitle: { cx: number; base: number; main: number; sub: number; subDy: number; supDy: number };
  yTitle?: { x: number; cy: number; main: number; sub: number; subDy: number };
};

function decorate(chart: Chart, xTicks: number[], xMinor: number[], decades: number[], st: PanelStyle) {
  const ctx = chart.ctx;
  const a = chart.chartArea;
  const xs: any = chart.scales.x;
  const ys: any = chart.scales.y;
  const R = a.right + st.rightShift;
  ctx.save();
  ctx.strokeStyle = '#1b1b1b';
  ctx.lineWidth = 2;
  ctx.beginPath();
  ctx.moveTo(a.left, a.top);
  ctx.lineTo(R, a.top);
  ctx.lineTo(R, a.bottom);
  ctx.lineTo(a.left, a.bottom);
  ctx.closePath();
  ctx.stroke();

  ctx.lineWidth = 1.5;
  ctx.beginPath();
  const xt = (v: number, len: number, lenTop: number) => {
    const px = xs.getPixelForValue(v);
    ctx.moveTo(px, a.bottom);
    ctx.lineTo(px, a.bottom - len);
    ctx.moveTo(px, a.top);
    ctx.lineTo(px, a.top + lenTop);
  };
  xTicks.forEach((v) => xt(v, 7, 6));
  xMinor.forEach((v) => xt(v, 4, 5));
  const lo = Math.floor(Math.log10(ys.min));
  const hi = Math.ceil(Math.log10(ys.max));
  for (let d = lo; d <= hi; d++) {
    for (let m = 1; m <= 9; m++) {
      const v = m * Math.pow(10, d);
      if (v < ys.min || v > ys.max) continue;
      const py = ys.getPixelForValue(v);
      const len = m === 1 ? 9 : 5;
      ctx.moveTo(a.left, py);
      ctx.lineTo(a.left + len, py);
      ctx.moveTo(R, py);
      ctx.lineTo(R - len, py);
    }
  }
  ctx.stroke();

  ctx.fillStyle = '#000';
  // y tick labels
  decades.forEach((d) => {
    const py = ys.getPixelForValue(Math.pow(10, d));
    drawRich(
      ctx,
      [
        { t: '10', size: st.yTickFont, bold: true },
        { t: String(d), size: st.ySupFont, bold: true, dy: st.ySupDy },
      ],
      a.left - st.yLabelGap,
      py + st.yBaseOff,
      'right'
    );
  });
  // x tick labels
  xTicks.forEach((v) => {
    const px = xs.getPixelForValue(v);
    drawRich(ctx, [{ t: String(v), size: st.xTickFont, bold: true }], px, st.xLabelBaseline, 'center');
  });
  // x title
  const T = st.xTitle;
  drawRich(
    ctx,
    [
      { t: 'I', size: T.main, bold: true },
      { t: 'D,Sat', size: T.sub, bold: true, dy: T.subDy },
      { t: ' (x 10', size: T.main, bold: true },
      { t: '-4', size: T.sub, bold: true, dy: T.supDy },
      { t: ' A/um)', size: T.main, bold: true },
    ],
    T.cx,
    T.base,
    'center'
  );
  // y title
  if (st.yTitle) {
    const Y = st.yTitle;
    ctx.save();
    ctx.translate(Y.x, Y.cy);
    ctx.rotate(-Math.PI / 2);
    drawRich(
      ctx,
      [
        { t: 'I', size: Y.main, bold: true },
        { t: 'OFF', size: Y.sub, bold: true, dy: Y.subDy },
        { t: ' (A/um)', size: Y.main, bold: true },
      ],
      0,
      0,
      'center'
    );
    ctx.restore();
  }
  // annotations
  drawRich(ctx, [{ t: st.tag, size: 48 }], st.tagPos[0], st.tagPos[1], 'left');
  drawRich(ctx, [{ t: st.device, size: 35 }], st.devicePos[0], st.devicePos[1], 'left');
  drawRich(
    ctx,
    [
      { t: 'L', size: 20 },
      { t: 'g', size: 14, dy: 6 },
      { t: '=28nm', size: 20 },
    ],
    st.lgPos[0],
    st.lgPos[1],
    'left'
  );
  // legend
  seriesLabels.forEach((lab, i) => {
    const yy = st.legendRows[i];
    drawMarker(ctx, i, st.legendMarkX, yy);
    ctx.fillStyle = '#000';
    drawRich(ctx, [{ t: lab, size: 36 }], st.legendTextX, yy + 13, 'left');
  });
  ctx.restore();
}

function makeDatasets(series: number[][][]) {
  const radius = [6.2, 5.0, 5.3, 4.6];
  const order = [3, 2, 0, 1];
  return series.map((pts, i) => ({
    label: seriesLabels[i],
    data: pts.map(([x, y]) => ({ x, y })),
    pointStyle: i === 0 || i === 2 ? 'rect' : 'circle',
    pointRadius: radius[i],
    pointBackgroundColor: i < 2 ? seriesColors[i] : 'rgba(0,0,0,0)',
    backgroundColor: i < 2 ? seriesColors[i] : 'rgba(0,0,0,0)',
    pointBorderColor: seriesColors[i],
    borderColor: seriesColors[i],
    pointBorderWidth: i < 2 ? 0 : 1.2,
    borderWidth: i < 2 ? 0 : 1.2,
    showLine: false,
    order: order[i],
    clip: 6,
  }));
}

function makeConfig(
  series: number[][][],
  xr: number[],
  yr: number[],
  pad: { left: number; top: number; right: number; bottom: number },
  xTicks: number[],
  xMinor: number[],
  decades: number[],
  st: PanelStyle
): any {
  return {
    type: 'scatter',
    data: { datasets: makeDatasets(series) },
    options: {
      animation: false,
      responsive: false,
      events: [],
      layout: { padding: pad },
      plugins: { legend: { display: false }, tooltip: { enabled: false }, title: { display: false } },
      scales: {
        x: { type: 'linear', min: xr[0], max: xr[1], bounds: 'data', display: false },
        y: { type: 'logarithmic', min: yr[0], max: yr[1], bounds: 'data', display: false },
      },
    },
    plugins: [
      {
        id: 'decor',
        afterDraw(chart: Chart) {
          decorate(chart, xTicks, xMinor, decades, st);
        },
      },
    ],
  };
}

const nmosStyle: PanelStyle = {
  rightShift: 0,
  yTickFont: 44,
  ySupFont: 30,
  yLabelGap: 9,
  yBaseOff: 17,
  ySupDy: -14,
  xTickFont: 44,
  xLabelBaseline: 413,
  tag: '(a)',
  tagPos: [184, 62],
  device: 'NMOS',
  devicePos: [189, 150],
  lgPos: [192, 189],
  legendMarkX: 469,
  legendTextX: 512,
  legendRows: [207, 252, 298, 343],
  xTitle: { cx: 399, base: 483, main: 52, sub: 31, subDy: 22, supDy: -26 },
  yTitle: { x: 50, cy: 232, main: 50, sub: 32, subDy: 20 },
};

const pmosStyle: PanelStyle = {
  rightShift: 1,
  yTickFont: 39,
  ySupFont: 29,
  yLabelGap: 5,
  yBaseOff: 16,
  ySupDy: -13,
  xTickFont: 39,
  xLabelBaseline: 415,
  tag: '(b)',
  tagPos: [757, 58],
  device: 'PMOS',
  devicePos: [773, 145],
  lgPos: [775, 177],
  legendMarkX: 1041,
  legendTextX: 1083,
  legendRows: [214, 260, 305, 351],
  xTitle: { cx: 972, base: 478, main: 50, sub: 30, subDy: 21, supDy: -25 },
};

export default function App() {
  const refA = useRef<HTMLCanvasElement>(null);
  const refB = useRef<HTMLCanvasElement>(null);
  useEffect(() => {
    const ca = new Chart(
      refA.current as HTMLCanvasElement,
      makeConfig(
        [nmosUD1, nmosUD2, nmosSSR1, nmosSSR2],
        nmosXRange,
        nmosYRange,
        { left: 174, top: 10, right: 572, bottom: 134 },
        nmosXTicks,
        nmosXMinor,
        nmosYDecades,
        nmosStyle
      )
    );
    const cb = new Chart(
      refB.current as HTMLCanvasElement,
      makeConfig(
        [pmosUD1, pmosUD2, pmosSSR1, pmosSSR2],
        pmosXRange,
        pmosYRange,
        { left: 747, top: 10, right: 0, bottom: 132 },
        pmosXTicks,
        pmosXMinor,
        pmosYDecades,
        pmosStyle
      )
    );
    return () => {
      ca.destroy();
      cb.destroy();
    };
  }, []);
  const cs: React.CSSProperties = { position: 'absolute', left: 0, top: 0, width: 1196, height: 504 };
  return (
    <div style={{ position: 'fixed', left: 0, top: 0, width: 1196, height: 504, background: '#ffffff', overflow: 'hidden' }}>
      <canvas ref={refA} width={1196} height={504} style={cs} />
      <canvas ref={refB} width={1196} height={504} style={cs} />
    </div>
  );
}
